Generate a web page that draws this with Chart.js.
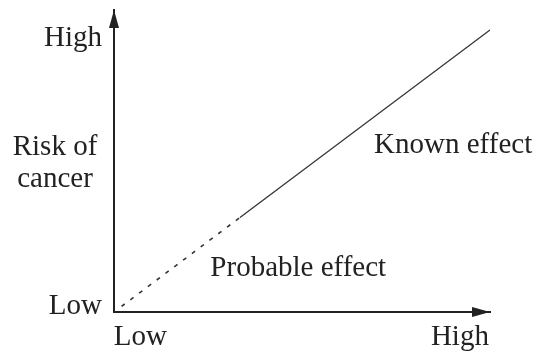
<!DOCTYPE html>
<html lang="en">
<head>
    <meta charset="UTF-8">
    <title>Risk of cancer</title>
    <script src="https://cdn.jsdelivr.net/npm/chart.js"></script>
    <style>
        body {
            margin: 0;
            padding: 0;
            background-color: #fff;
        }

        .wrap {
            width: 537px;
            height: 351px;
            position: relative;
        }
    </style>
</head>
<body>
    <div class="wrap">
        <canvas id="riskChart"></canvas>
    </div>

    <script>
        // Line points (x = exposure, y = risk), both on a 0-100 scale
        const probablePoints = [{ x: 2, y: 1.85 }, { x: 33.5, y: 31.3 }];
        const knownPoints = [{ x: 33.5, y: 31.3 }, { x: 100, y: 93.4 }];

        // Axis tick labels
        const xTickValues = [7.0, 92];
        const xTickLabels = ['Low', 'High'];
        const yTickValues = [1.7, 90.7];
        const yTickLabels = ['Low', 'High'];

        // Annotations in data units
        const notes = [
            { text: 'Known effect', x: 90.2, y: 55.3 },
            { text: 'Probable effect', x: 49.0, y: 14.6 }
        ];
        const yTitleLines = ['Risk of', 'cancer'];

        const ink = '#222';
        const serif = '"Liberation Serif", "DejaVu Serif", serif';
        const fontSize = 29;

        // Arrow heads + text annotations
        const decorations = {
            id: 'decorations',
            afterDraw(chart) {
                const { ctx, chartArea } = chart;
                const left = chartArea.left, bottom = chartArea.bottom;
                ctx.save();
                ctx.fillStyle = ink;

                // y arrow
                ctx.beginPath();
                ctx.moveTo(left, chartArea.top);
                ctx.lineTo(left - 5, chartArea.top + 18);
                ctx.lineTo(left + 5, chartArea.top + 18);
                ctx.closePath();
                ctx.fill();

                // x arrow
                ctx.beginPath();
                ctx.moveTo(chartArea.right, bottom);
                ctx.lineTo(chartArea.right - 18, bottom - 5);
                ctx.lineTo(chartArea.right - 18, bottom + 5);
                ctx.closePath();
                ctx.fill();

                ctx.font = fontSize + 'px ' + serif;
                ctx.textAlign = 'center';
                ctx.textBaseline = 'middle';
                notes.forEach(n => {
                    ctx.fillText(n.text, chart.scales.x.getPixelForValue(n.x), chart.scales.y.getPixelForValue(n.y));
                });

                const midY = (chartArea.top + bottom) / 2;
                yTitleLines.forEach((t, i) => {
                    ctx.fillText(t, left - 59, midY - 14 + i * 32);
                });
                ctx.restore();
            }
        };

        new Chart(document.getElementById('riskChart'), {
            type: 'line',
            data: {
                datasets: [
                    {
                        data: probablePoints,
                        borderColor: '#333',
                        borderWidth: 1.6,
                        borderDash: [4, 7],
                        pointRadius: 0
                    },
                    {
                        data: knownPoints,
                        borderColor: '#333',
                        borderWidth: 1.3,
                        pointRadius: 0
                    }
                ]
            },
            options: {
                responsive: true,
                maintainAspectRatio: false,
                animation: false,
                layout: { padding: { top: 10, right: 47, left: 0, bottom: 0 } },
                plugins: {
                    legend: { display: false },
                    tooltip: { enabled: false }
                },
                scales: {
                    x: {
                        type: 'linear',
                        min: 0,
                        max: 100,
                        grid: { display: false },
                        border: { display: true, color: ink, width: 2 },
                        afterBuildTicks: scale => {
                            scale.ticks = xTickValues.map(v => ({ value: v }));
                        },
                        afterFit: scale => {
                            scale.height = 39;
                            scale.paddingLeft = 0;
                            scale.paddingRight = 0;
                        },
                        ticks: {
                            autoSkip: false,
                            maxRotation: 0,
                            padding: 0,
                            color: ink,
                            font: { family: serif, size: fontSize },
                            callback: (v, i) => xTickLabels[i]
                        }
                    },
                    y: {
                        type: 'linear',
                        min: 0,
                        max: 100,
                        grid: { display: false },
                        border: { display: true, color: ink, width: 2 },
                        afterBuildTicks: scale => {
                            scale.ticks = yTickValues.map(v => ({ value: v }));
                        },
                        afterFit: scale => {
                            scale.width = 114;
                            scale.paddingTop = 0;
                            scale.paddingBottom = 0;
                        },
                        ticks: {
                            autoSkip: false,
                            padding: 4,
                            color: ink,
                            font: { family: serif, size: fontSize },
                            callback: (v, i) => yTickLabels[i]
                        }
                    }
                }
            },
            plugins: [decorations]
        });
    </script>
</body>
</html>
